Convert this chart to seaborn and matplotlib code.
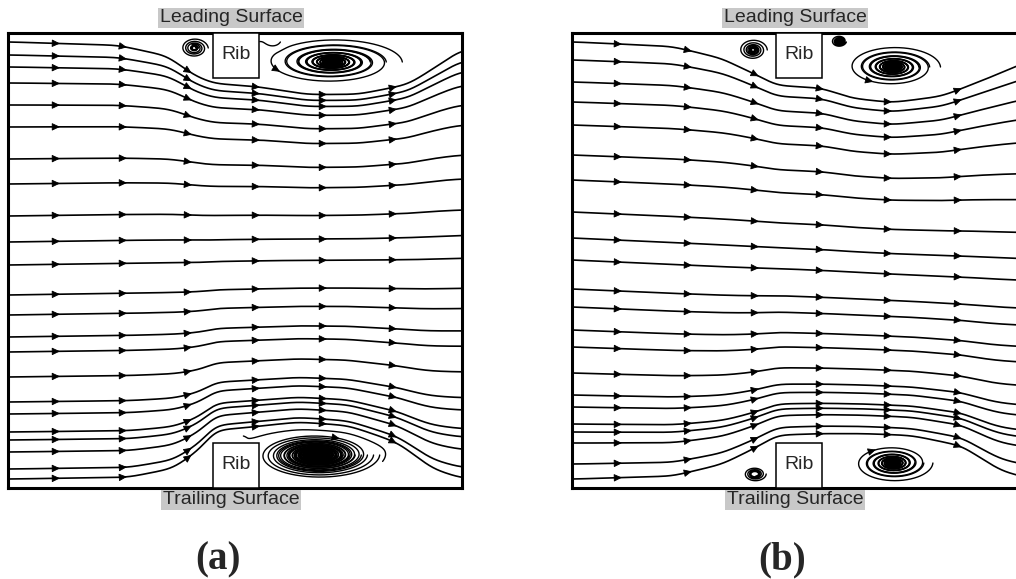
import numpy as np
import matplotlib
matplotlib.use("Agg")
import matplotlib.pyplot as plt
from matplotlib.patches import Rectangle, FancyArrowPatch
import seaborn as sns

sns.set_theme(style="white")
plt.rcParams["font.family"] = ["Liberation Sans", "DejaVu Sans"]

# Channel cross-section in pixel-like units (x: streamwise, y: trailing -> leading)
W, H = 454.0, 455.0
RIB_H = 45.0

panel_tags = ["(a)", "(b)"]
rib_x0 = [205.0, 204.0]
rib_x1 = [251.0, 250.0]

# Separation-line outlines (height of recirculation zones above each wall)
wall_x_a = [0, 120, 165, 195, 205, 251, 290, 340, 390, 425, 454]
bottom_h_a = [0, 2, 12, 35, 52, 56, 60, 56, 38, 12, 2]
top_x_a = [0, 110, 160, 185, 205, 251, 300, 350, 400, 435, 454]
top_g_a = [2, 6, 18, 38, 47, 50, 58, 58, 48, 25, 12]

wall_x_b = [0, 100, 150, 190, 204, 250, 290, 340, 390, 430, 454]
bottom_h_b = [0, 4, 18, 40, 50, 52, 52, 50, 40, 12, 4]
top_x_b = [0, 100, 150, 190, 204, 250, 280, 320, 370, 420, 454]
top_g_b = [0, 5, 18, 38, 46, 48, 58, 62, 55, 35, 20]

# Cross-stream drift of the core flow
drift = [-0.015, 0.045]

# Inlet positions of the main streamlines
seed_y_a = [446, 433, 421, 405, 383, 361, 329, 304, 272, 246, 223, 193, 173,
            151, 136, 111, 86, 74, 56, 48, 36, 19, 9]
seed_y_b = [446, 428, 406, 386, 363, 333, 308, 276, 250, 228, 199, 181, 158,
            141, 115, 93, 81, 64, 56, 45, 24, 9]

# Streamwise stations of the direction arrows
arrow_x_a = [50, 117, 182, 250, 317, 387]
arrow_x_b = [48, 118, 185, 250, 318, 388]

# Recirculation cells: centre, semi-axes, circulation, seeds, loops drawn
vx_a = [186, 266, 324, 225, 309]
vy_a = [440, 446, 426, 52, 33]
vax_a = [15, 8, 74, 13, 66]
vay_a = [11, 6, 25, 5, 25]
vg_a = [-6, 3, -13, 3, 13]
vseeds_a = [2, 1, 4, 1, 8]
vloops_a = [2.5, 6, 6, 4, 9]

vx_b = [181, 268, 321, 183, 321]
vy_b = [438, 446, 421, 14, 25]
vax_b = [15, 8, 50, 14, 42]
vay_b = [11, 6, 22, 9, 20]
vg_b = [-6, 3, -11, 5, 10]
vseeds_b = [2, 1, 4, 1, 4]
vloops_b = [3, 5, 7, 3, 7]

L_DECAY = 50.0
SOFT = 3.0
K_SPIRAL, RHO0 = 0.05, 0.04


def smooth_profile(xs, px, py, sigma=8.0):
    prof = np.interp(xs, px, py)
    k = np.arange(-30, 31)
    ker = np.exp(-0.5 * (k / sigma) ** 2)
    ker /= ker.sum()
    padded = np.pad(prof, 30, mode="edge")
    return np.convolve(padded, ker, mode="same")[30:-30]


def velocity_field(x, y, wx, hh, tx, gg, c, vx, vy, vax, vay, vg, x0, x1):
    X, Y = np.meshgrid(x, y)
    h = smooth_profile(x, wx, hh)[None, :]
    g = smooth_profile(x, tx, gg)[None, :]
    raw = (Y - h * np.exp((h - Y) / L_DECAY)
           + g * np.exp((g - (H - Y)) / L_DECAY)
           + c * X * np.sin(np.pi * Y / H))
    lo = SOFT * np.logaddexp(0, raw / SOFT)
    psi = H - SOFT * np.logaddexp(0, (H - lo) / SOFT)
    dpsi_dy, dpsi_dx = np.gradient(psi, y, x)
    U = dpsi_dy.copy()
    V = -dpsi_dx
    for xc, yc, ax_, ay_, G in zip(vx, vy, vax, vay, vg):
        xi = (X - xc) / ax_
        eta = (Y - yc) / ay_
        q = xi ** 2 + eta ** 2
        rho = np.sqrt(q)
        E = np.exp(-q)
        U += (2 * G / ay_) * eta * E
        V += -(2 * G / ax_) * xi * E
        S = K_SPIRAL * 2 * abs(G) / (ax_ * ay_)
        pull = S * (rho - RHO0) / (rho + 1e-9) * E
        U += -ax_ * pull * xi
        V += -ay_ * pull * eta
    rib = (X >= x0) & (X <= x1) & ((Y <= RIB_H) | (Y >= H - RIB_H))
    U[rib] = np.nan
    V[rib] = np.nan
    return U, V


def direction(U, V, px, py):
    if not (0 <= px < W and 0 <= py < H):
        return None
    i, j = int(px), int(py)
    fx, fy = px - i, py - j
    u = (U[j, i] * (1 - fx) * (1 - fy) + U[j, i + 1] * fx * (1 - fy)
         + U[j + 1, i] * (1 - fx) * fy + U[j + 1, i + 1] * fx * fy)
    v = (V[j, i] * (1 - fx) * (1 - fy) + V[j, i + 1] * fx * (1 - fy)
         + V[j + 1, i] * (1 - fx) * fy + V[j + 1, i + 1] * fx * fy)
    s = np.hypot(u, v)
    if not np.isfinite(s) or s < 1e-12:
        return None
    return u / s, v / s


def trace(U, V, p0, maxlen, ds=0.6):
    px, py = p0
    pts = [(px, py)]
    length = 0.0
    while length < maxlen:
        d1 = direction(U, V, px, py)
        if d1 is None:
            break
        d2 = direction(U, V, px + 0.5 * ds * d1[0], py + 0.5 * ds * d1[1])
        if d2 is None:
            break
        px, py = px + ds * d2[0], py + ds * d2[1]
        if not (0 <= px <= W and 0 <= py <= H):
            break
        pts.append((px, py))
        length += ds
    return np.array(pts)


def add_arrow(ax, p, d):
    d = np.asarray(d, float)
    d = d / (np.hypot(*d) + 1e-12)
    ax.add_patch(FancyArrowPatch(tuple(p - 2.0 * d), tuple(p + 2.0 * d),
                                 arrowstyle="-|>,head_length=0.7,head_width=0.33",
                                 mutation_scale=7, color="black", lw=0.6,
                                 shrinkA=0, shrinkB=0, zorder=4))


fig = plt.figure(figsize=(10.16, 5.79), dpi=100)
FW, FH = 1016.0, 579.0
lefts = [8.0, 572.0]
top_px, bot_px = 33.0, 488.0

panels = [
    (wall_x_a, bottom_h_a, top_x_a, top_g_a, seed_y_a, arrow_x_a,
     vx_a, vy_a, vax_a, vay_a, vg_a, vseeds_a, vloops_a),
    (wall_x_b, bottom_h_b, top_x_b, top_g_b, seed_y_b, arrow_x_b,
     vx_b, vy_b, vax_b, vay_b, vg_b, vseeds_b, vloops_b),
]

x = np.linspace(0, W, 455)
y = np.linspace(0, H, 456)

for i, (wx, hh, tx, gg, seeds, arr_x, vx, vy, vax, vay, vg, vs, vl) in enumerate(panels):
    ax = fig.add_axes([lefts[i] / FW, (FH - bot_px) / FH, W / FW,
                       (bot_px - top_px) / FH])
    U, V = velocity_field(x, y, wx, hh, tx, gg, drift[i], vx, vy, vax, vay,
                          vg, rib_x0[i], rib_x1[i])

    for sy in seeds:
        line = trace(U, V, (0.3, float(sy)), 3 * W)
        if len(line) < 2:
            continue
        sns.lineplot(x=line[:, 0], y=line[:, 1], sort=False, estimator=None,
                     color="black", linewidth=1.2, ax=ax)
        for xs in arr_x:
            idx = np.nonzero((line[:-1, 0] < xs) & (line[1:, 0] >= xs))[0]
            if len(idx) == 0:
                continue
            k = idx[0]
            t = (xs - line[k, 0]) / (line[k + 1, 0] - line[k, 0])
            p = line[k] + t * (line[k + 1] - line[k])
            add_arrow(ax, p, line[k + 1] - line[k])

    for xc, yc, a_, b_, n, loops in zip(vx, vy, vax, vay, vs, vl):
        fr = np.linspace(0.3, 0.95, n) if n > 1 else np.array([0.8])
        perim = 2 * np.pi * np.sqrt((a_ ** 2 + b_ ** 2) / 2)
        longest = None
        for f in fr:
            p0 = (min(max(xc + a_ * f, 1.0), W - 1.0), float(yc))
            line = trace(U, V, p0, loops * perim * f * 0.8)
            if len(line) < 2:
                continue
            ax.plot(line[:, 0], line[:, 1], color="black", lw=1.0)
            if longest is None or len(line) > len(longest):
                longest = line
        # only the large cells carry a visible direction marker
        if a_ >= 30 and longest is not None and len(longest) > 20:
            k = len(longest) // 10
            add_arrow(ax, longest[k], longest[k + 2] - longest[k - 2])

    for yb in (0.0, H - RIB_H):
        ax.add_patch(Rectangle((rib_x0[i], yb), rib_x1[i] - rib_x0[i], RIB_H,
                               facecolor="white", edgecolor="black",
                               linewidth=1.1, zorder=5))
        ax.text((rib_x0[i] + rib_x1[i]) / 2, yb + RIB_H / 2 + 1, "Rib",
                ha="center", va="center", fontsize=14, zorder=6)

    ax.set_xlim(0, W)
    ax.set_ylim(0, H)
    ax.set_xticks([])
    ax.set_yticks([])
    ax.set_xlabel("")
    ax.set_ylabel("")
    for sp in ax.spines.values():
        sp.set_visible(True)
        sp.set_color("black")
        sp.set_linewidth(2.2)

    box = dict(boxstyle="square,pad=0.1", facecolor="#c8c8c8", edgecolor="none")
    ax.text(223, 470, "Leading Surface", ha="center", va="center",
            fontsize=14, bbox=box, clip_on=False)
    ax.text(223, -12, "Trailing Surface", ha="center", va="center",
            fontsize=14, bbox=box, clip_on=False)
    ax.text(210, -72, panel_tags[i], ha="center", va="center", fontsize=28,
            fontweight="bold", family=["Liberation Serif", "DejaVu Serif"],
            clip_on=False)

fig.savefig("out.png", dpi=100)
